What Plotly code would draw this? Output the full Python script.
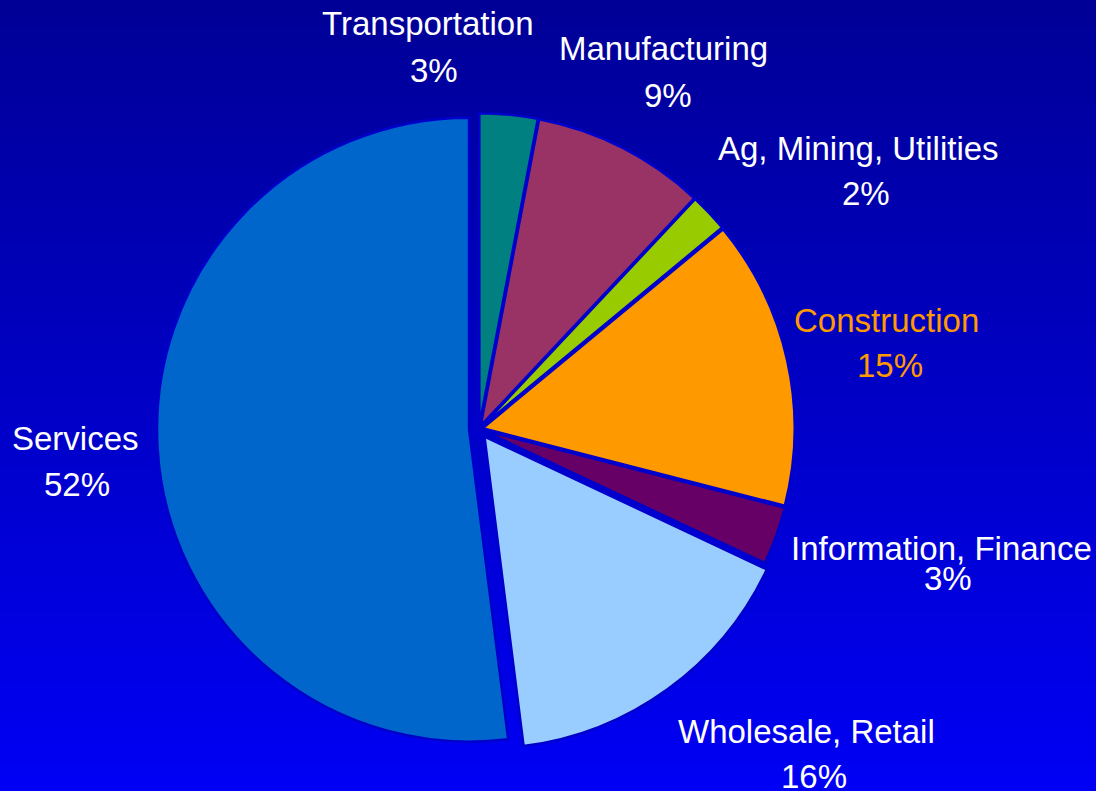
import plotly.graph_objects as go

# ---- data ----
categories = ["Transportation", "Manufacturing", "Ag, Mining, Utilities", "Construction",
              "Information, Finance", "Wholesale, Retail", "Services"]
shares = [3, 9, 2, 15, 3, 16, 52]
colors = ["#008080", "#993366", "#99CC00", "#FF9900", "#660066", "#99CCFF", "#0066CC"]
label_colors = ["white", "white", "white", "#FF9900", "white", "white", "white"]

# ---- layout helpers (pixel positions of label name / percent) ----
W, H = 1096, 791
name_pos = [(428, 23), (663, 49), (859, 148), (886, 320), (941, 548), (806, 731), (75, 438)]
pct_pos = [(434, 70), (668, 95), (866, 193), (890, 366), (948, 578), (814, 776), (77, 484)]
pulls = [0.012, 0.012, 0.012, 0.012, 0.012, 0.03, 0.032]

cx, cy, r = 479, 429, 312
maxpull = max(pulls)
half = r * (1 + maxpull)

fig = go.Figure()
fig.add_trace(go.Pie(
    labels=categories, values=shares, sort=False, direction="clockwise", rotation=0,
    marker=dict(colors=colors, line=dict(color="#0000CB", width=2.5)),
    pull=pulls, textinfo="none", hoverinfo="label+percent",
    domain=dict(x=[(cx - half) / W, (cx + half) / W],
                y=[1 - (cy + half) / H, 1 - (cy - half) / H]),
    showlegend=False,
))

# gradient background via strips
n = 120
top = (0, 0, 150)
bot = (0, 0, 245)
shapes = []
for i in range(n):
    t = (i + 0.5) / n
    c = tuple(int(round(top[k] + (bot[k] - top[k]) * t)) for k in range(3))
    shapes.append(dict(type="rect", xref="paper", yref="paper", x0=0, x1=1,
                       y0=1 - (i + 1) / n - 0.001, y1=1 - i / n,
                       fillcolor=f"rgb{c}", line=dict(width=0), layer="below"))

annotations = []
total = sum(shares)
for cat, v, col, (nx, ny), (px, py) in zip(categories, shares, label_colors, name_pos, pct_pos):
    annotations.append(dict(text=cat, x=nx / W, y=1 - ny / H, xref="paper", yref="paper",
                            showarrow=False, xanchor="center", yanchor="middle",
                            font=dict(color=col, size=33, family="Liberation Sans, Arial")))
    annotations.append(dict(text=f"{round(100 * v / total)}%", x=px / W, y=1 - py / H,
                            xref="paper", yref="paper", showarrow=False,
                            xanchor="center", yanchor="middle",
                            font=dict(color=col, size=33, family="Liberation Sans, Arial")))

fig.update_layout(width=W, height=H, margin=dict(l=0, r=0, t=0, b=0),
                  paper_bgcolor="#0000C0", plot_bgcolor="#0000C0",
                  shapes=shapes, annotations=annotations)

fig.write_html("out.html", config={"displayModeBar": False},
               post_script="document.body.style.margin='0';document.body.style.overflow='hidden';")
